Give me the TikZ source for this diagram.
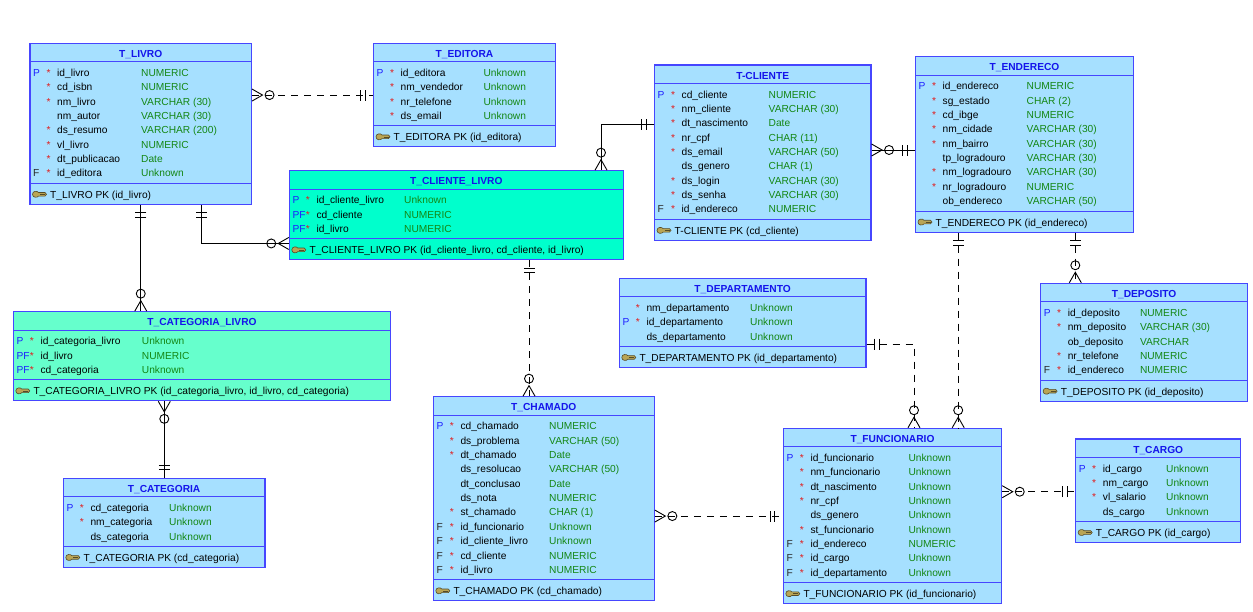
\documentclass[tikz,border=0pt]{standalone}
\usepackage{fontspec}
\setmainfont{Liberation Sans}
\usetikzlibrary{fit}
\definecolor{tblblue}{RGB}{166,224,255}
\definecolor{tblcyan}{RGB}{0,255,204}
\definecolor{tblmint}{RGB}{102,255,204}
\definecolor{bordc}{RGB}{70,70,255}
\definecolor{titlec}{RGB}{20,20,235}
\definecolor{typec}{RGB}{20,135,20}
\definecolor{flagc}{RGB}{30,30,255}
\definecolor{fkc}{RGB}{40,40,40}
\definecolor{starc}{RGB}{225,30,30}
\definecolor{keyfill}{RGB}{185,165,85}
\definecolor{keydraw}{RGB}{85,75,40}

\newcount\errow
\def\curname{}\def\curleft{0}\def\curright{0}\def\curtop{0}\def\curtype{0}
\newcommand\Fk{\textcolor{fkc}{F}}

\newcommand\ertable[8]{%
  \node[tbl, fill=#6, fit={(#2,#3)(#4,#5)}] (#1) {};
  \draw[sepline] (#2,#3+18.3) -- (#4,#3+18.3);
  \node[ttl] (#1-title) at ({(#2+#4)/2},#3+14) {#7};
  \gdef\curname{#1}\gdef\curleft{#2}\gdef\curright{#4}\gdef\curtop{#3}\gdef\curtype{#8}%
  \global\errow=0
}
\newcommand\erow[4]{%
  \global\advance\errow by 1
  \pgfmathsetmacro\rowy{\curtop+33+14.37*(\the\errow-1)}%
  \if\relax\detokenize{#1}\relax\else
    \node[flag] (\curname-f\the\errow) at (\curleft+3,\rowy) {#1};\fi
  \if\relax\detokenize{#2}\relax\else
    \node[starn] (\curname-s\the\errow) at (\curleft+18.5,\rowy) {*};\fi
  \node[fname] (\curname-n\the\errow) at (\curleft+27,\rowy) {#3};
  \node[ftype] (\curname-y\the\errow) at (\curtype,\rowy) {#4};
}
\newcommand\keyicon[2]{%
  \begin{scope}[shift={(#1,#2)}]
    \filldraw[keyst] (-6.5,0) .. controls (-6.5,-3.6) and (-1.5,-3.6) .. (-0.5,-1.8) -- (6,-1.8) -- (7.5,0) -- (6,1.8) -- (-0.5,1.8) .. controls (-1.5,3.6) and (-6.5,3.6) .. (-6.5,0) -- cycle;
    \draw[keydraw, line width=0.5pt] (1,0) -- (6,0);
  \end{scope}}
\newcommand\erfoot[1]{%
  \pgfmathsetmacro\sepy{\curtop+29.4+14.37*(\the\errow-1)+10}%
  \draw[sepline] (\curleft,\sepy) -- (\curright,\sepy);
  \keyicon{\curleft+9}{\sepy+11}
  \node[foot] (\curname-pk) at (\curleft+20,\sepy+15) {#1};
}
\newcommand\crowmark[2]{%
  \begin{scope}[shift={(#1)},rotate=#2]
    \draw[conn] (0,6) -- (10.5,0) -- (0,-6);
    \draw[conn] (17.5,0) circle[radius=4.5pt];
  \end{scope}}
\newcommand\onemark[2]{%
  \begin{scope}[shift={(#1)},rotate=#2]
    \draw[conn] (8,-5.5) -- (8,5.5) (12.5,-5.5) -- (12.5,5.5);
  \end{scope}}

\begin{document}
\begin{tikzpicture}[x=1pt,y=-1pt,
  tbl/.style={draw=bordc, line width=1.1pt, inner sep=0pt},
  sepline/.style={draw=bordc, line width=0.9pt},
  txt/.style={inner sep=0pt, font=\fontsize{10.2}{12}\selectfont},
  ttl/.style={txt, anchor=base, text=titlec, font=\fontsize{10.2}{12}\selectfont\bfseries},
  flag/.style={txt, anchor=base west, text=flagc},
  starn/.style={txt, anchor=base, text=starc},
  fname/.style={txt, anchor=base west, text=black},
  ftype/.style={txt, anchor=base west, text=typec},
  foot/.style={txt, anchor=base west, text=black},
  conn/.style={draw=black, line width=0.9pt},
  erdash/.style={dash pattern=on 7pt off 6pt},
  keyst/.style={fill=keyfill, draw=keydraw, line width=0.6pt}]

\fill[white] (0,0) rectangle (1253,611);
\useasboundingbox (0,0) rectangle (1253,611);

% T_LIVRO
\ertable{livro}{30}{43.3}{251.5}{204.3}{tblblue}{T\_LIVRO}{141}
\erow{P}{*}{id\_livro}{NUMERIC}
\erow{}{*}{cd\_isbn}{NUMERIC}
\erow{}{*}{nm\_livro}{VARCHAR (30)}
\erow{}{}{nm\_autor}{VARCHAR (30)}
\erow{}{*}{ds\_resumo}{VARCHAR (200)}
\erow{}{*}{vl\_livro}{NUMERIC}
\erow{}{*}{dt\_publicacao}{Date}
\erow{\Fk}{*}{id\_editora}{Unknown}
\erfoot{T\_LIVRO PK (id\_livro)}

% T_EDITORA
\ertable{editora}{373.5}{43.3}{555.5}{146.8}{tblblue}{T\_EDITORA}{483.3}
\erow{P}{*}{id\_editora}{Unknown}
\erow{}{*}{nm\_vendedor}{Unknown}
\erow{}{*}{nr\_telefone}{Unknown}
\erow{}{*}{ds\_email}{Unknown}
\erfoot{T\_EDITORA PK (id\_editora)}

% T-CLIENTE
\ertable{cliente}{654.5}{65}{871}{240.4}{tblblue}{T-CLIENTE}{768.5}
\erow{P}{*}{cd\_cliente}{NUMERIC}
\erow{}{*}{nm\_cliente}{VARCHAR (30)}
\erow{}{*}{dt\_nascimento}{Date}
\erow{}{*}{nr\_cpf}{CHAR (11)}
\erow{}{*}{ds\_email}{VARCHAR (50)}
\erow{}{}{ds\_genero}{CHAR (1)}
\erow{}{*}{ds\_login}{VARCHAR (30)}
\erow{}{*}{ds\_senha}{VARCHAR (30)}
\erow{\Fk}{*}{id\_endereco}{NUMERIC}
\erfoot{T-CLIENTE PK (cd\_cliente)}

% T_ENDERECO
\ertable{endereco}{915.5}{56.7}{1133.5}{232.1}{tblblue}{T\_ENDERECO}{1026.5}
\erow{P}{*}{id\_endereco}{NUMERIC}
\erow{}{*}{sg\_estado}{CHAR (2)}
\erow{}{*}{cd\_ibge}{NUMERIC}
\erow{}{*}{nm\_cidade}{VARCHAR (30)}
\erow{}{*}{nm\_bairro}{VARCHAR (30)}
\erow{}{}{tp\_logradouro}{VARCHAR (30)}
\erow{}{*}{nm\_logradouro}{VARCHAR (30)}
\erow{}{*}{nr\_logradouro}{NUMERIC}
\erow{}{}{ob\_endereco}{VARCHAR (50)}
\erfoot{T\_ENDERECO PK (id\_endereco)}

% T_CLIENTE_LIVRO
\ertable{clientelivro}{289.3}{170.7}{623.3}{259.8}{tblcyan}{T\_CLIENTE\_LIVRO}{404}
\erow{P}{*}{id\_cliente\_livro}{Unknown}
\erow{PF}{*}{cd\_cliente}{NUMERIC}
\erow{PF}{*}{id\_livro}{NUMERIC}
\erfoot{T\_CLIENTE\_LIVRO PK (id\_cliente\_livro, cd\_cliente, id\_livro)}

% T_CATEGORIA_LIVRO
\ertable{catlivro}{13.3}{311.7}{390.7}{400.8}{tblmint}{T\_CATEGORIA\_LIVRO}{141.7}
\erow{P}{*}{id\_categoria\_livro}{Unknown}
\erow{PF}{*}{id\_livro}{NUMERIC}
\erow{PF}{*}{cd\_categoria}{Unknown}
\erfoot{T\_CATEGORIA\_LIVRO PK (id\_categoria\_livro, id\_livro, cd\_categoria)}

% T_CATEGORIA
\ertable{categoria}{63.3}{478.3}{265}{567.4}{tblblue}{T\_CATEGORIA}{169}
\erow{P}{*}{cd\_categoria}{Unknown}
\erow{}{*}{nm\_categoria}{Unknown}
\erow{}{}{ds\_categoria}{Unknown}
\erfoot{T\_CATEGORIA PK (cd\_categoria)}

% T_CHAMADO
\ertable{chamado}{433.3}{396.7}{654.3}{600.8}{tblblue}{T\_CHAMADO}{549}
\erow{P}{*}{cd\_chamado}{NUMERIC}
\erow{}{*}{ds\_problema}{VARCHAR (50)}
\erow{}{*}{dt\_chamado}{Date}
\erow{}{}{ds\_resolucao}{VARCHAR (50)}
\erow{}{}{dt\_conclusao}{Date}
\erow{}{}{ds\_nota}{NUMERIC}
\erow{}{*}{st\_chamado}{CHAR (1)}
\erow{\Fk}{*}{id\_funcionario}{Unknown}
\erow{\Fk}{*}{id\_cliente\_livro}{Unknown}
\erow{\Fk}{*}{cd\_cliente}{NUMERIC}
\erow{\Fk}{*}{id\_livro}{NUMERIC}
\erfoot{T\_CHAMADO PK (cd\_chamado)}

% T_DEPARTAMENTO
\ertable{dept}{619.3}{278.3}{866}{367.4}{tblblue}{T\_DEPARTAMENTO}{750}
\erow{}{*}{nm\_departamento}{Unknown}
\erow{P}{*}{id\_departamento}{Unknown}
\erow{}{}{ds\_departamento}{Unknown}
\erfoot{T\_DEPARTAMENTO PK (id\_departamento)}

% T_DEPOSITO
\ertable{deposito}{1040.6}{283.3}{1247.6}{401.2}{tblblue}{T\_DEPOSITO}{1139.8}
\erow{P}{*}{id\_deposito}{NUMERIC}
\erow{}{*}{nm\_deposito}{VARCHAR (30)}
\erow{}{}{ob\_deposito}{VARCHAR}
\erow{}{*}{nr\_telefone}{NUMERIC}
\erow{\Fk}{*}{id\_endereco}{NUMERIC}
\erfoot{T\_DEPOSITO PK (id\_deposito)}

% T_FUNCIONARIO
\ertable{funcionario}{783.3}{428.3}{1001.7}{603.7}{tblblue}{T\_FUNCIONARIO}{908.3}
\erow{P}{*}{id\_funcionario}{Unknown}
\erow{}{*}{nm\_funcionario}{Unknown}
\erow{}{*}{dt\_nascimento}{Unknown}
\erow{}{*}{nr\_cpf}{Unknown}
\erow{}{}{ds\_genero}{Unknown}
\erow{}{*}{st\_funcionario}{Unknown}
\erow{\Fk}{*}{id\_endereco}{NUMERIC}
\erow{\Fk}{*}{id\_cargo}{Unknown}
\erow{\Fk}{*}{id\_departamento}{Unknown}
\erfoot{T\_FUNCIONARIO PK (id\_funcionario)}

% T_CARGO
\ertable{cargo}{1075.7}{439}{1240.7}{542.3}{tblblue}{T\_CARGO}{1166}
\erow{P}{*}{id\_cargo}{Unknown}
\erow{}{*}{nm\_cargo}{Unknown}
\erow{}{*}{vl\_salario}{Unknown}
\erow{}{}{ds\_cargo}{Unknown}
\erfoot{T\_CARGO PK (id\_cargo)}

% ---------- connectors ----------
% 1 livro - editora
\coordinate (a1) at (livro.east |- editora.west);
\coordinate (b1) at (editora.west);
\draw[conn,erdash] (a1) -- (b1);
\crowmark{a1}{0}\onemark{b1}{180}
% 2 livro - categoria_livro
\coordinate (a2) at (livro.south);
\coordinate (b2) at (livro.south |- catlivro.north);
\draw[conn] (a2) -- (b2);
\onemark{a2}{-90}\crowmark{b2}{90}
% 3 livro - cliente_livro
\coordinate (a3) at ([xshift=60.5pt]livro.south);
\coordinate (b3) at ([yshift=-28.2pt]clientelivro.west);
\draw[conn] (a3) |- (b3);
\onemark{a3}{-90}\crowmark{b3}{180}
% 4 cliente - cliente_livro
\coordinate (a4) at ([yshift=28.7pt]cliente.west);
\coordinate (b4) at ([xshift=144.7pt]clientelivro.north);
\draw[conn] (a4) -| (b4);
\onemark{a4}{180}\crowmark{b4}{90}
% 5 cliente_livro - chamado
\coordinate (a5) at ([xshift=72.7pt]clientelivro.south);
\coordinate (b5) at (a5 |- chamado.north);
\draw[conn,erdash] (a5) -- (b5);
\onemark{a5}{-90}\crowmark{b5}{90}
% 6 cliente - endereco
\coordinate (a6) at ([yshift=2.7pt]cliente.east);
\coordinate (b6) at (a6 -| endereco.west);
\draw[conn] (a6) -- (b6);
\crowmark{a6}{0}\onemark{b6}{180}
% 7 endereco - funcionario
\coordinate (a7) at ([xshift=-66.3pt]endereco.south);
\coordinate (b7) at (a7 |- funcionario.north);
\draw[conn,erdash] (a7) -- (b7);
\onemark{a7}{-90}\crowmark{b7}{90}
% 8 endereco - deposito
\coordinate (a8) at ([xshift=50.8pt]endereco.south);
\coordinate (b8) at (a8 |- deposito.north);
\draw[conn,erdash] (a8) -- (b8);
\onemark{a8}{-90}\crowmark{b8}{90}
% 9 departamento - funcionario
\coordinate (a9) at ([yshift=-21.2pt]dept.east);
\coordinate (b9) at ([xshift=21.5pt]funcionario.north);
\draw[conn,erdash] (a9) -| (b9);
\onemark{a9}{0}\crowmark{b9}{90}
% 10 chamado - funcionario
\coordinate (a10) at ([yshift=-17.3pt]chamado.east);
\coordinate (b10) at (a10 -| funcionario.west);
\draw[conn,erdash] (a10) -- (b10);
\crowmark{a10}{0}\onemark{b10}{180}
% 11 funcionario - cargo
\coordinate (a11) at ([yshift=24.3pt]funcionario.east);
\coordinate (b11) at (a11 -| cargo.west);
\draw[conn,erdash] (a11) -- (b11);
\crowmark{a11}{0}\onemark{b11}{180}
% 12 categoria_livro - categoria
\coordinate (a12) at ([xshift=-37.7pt]catlivro.south);
\coordinate (b12) at (a12 |- categoria.north);
\draw[conn] (a12) -- (b12);
\crowmark{a12}{-90}\onemark{b12}{90}

\end{tikzpicture}
\end{document}
